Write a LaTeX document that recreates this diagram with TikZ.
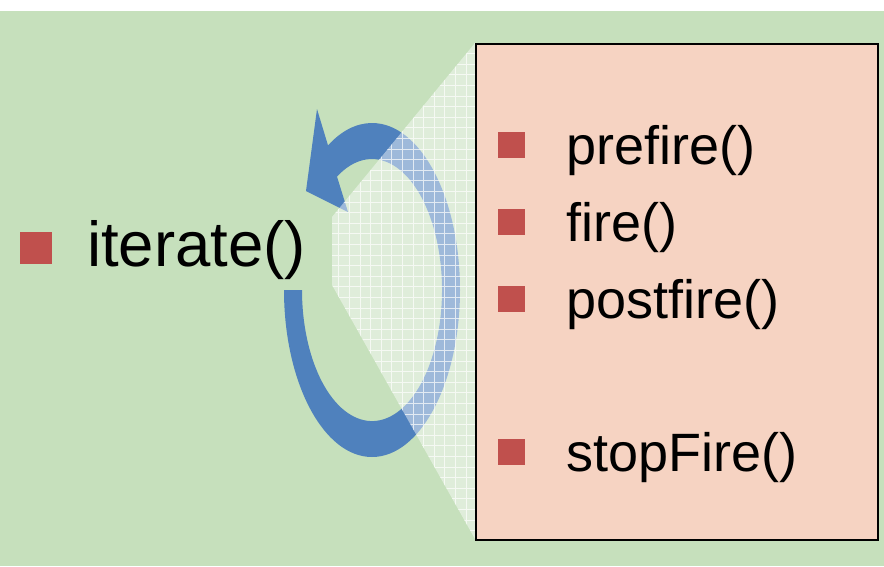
\documentclass[tikz,border=0pt]{standalone}
\usepackage{fontspec}
\setmainfont{Liberation Sans}
\definecolor{bggreen}{HTML}{C6E0BC}
\definecolor{boxpeach}{HTML}{F6D3C2}
\definecolor{ringblue}{HTML}{4F81BD}
\definecolor{bulletred}{HTML}{C0504D}
\tikzset{
  bulletsq/.style={fill=bulletred, minimum size=#1, inner sep=0pt, draw=none},
  bigtext/.style={anchor=base west, inner sep=0pt, font=\fontsize{63.5}{70}\selectfont},
  itemtext/.style={anchor=base west, inner sep=0pt, font=\fontsize{54}{60}\selectfont},
  methodbox/.style={draw=black, line width=2.4pt, fill=boxpeach, anchor=north west,
    minimum width=402pt, minimum height=496pt, inner sep=0pt},
}
\begin{document}
\begin{tikzpicture}[x=1pt,y=1pt]
\useasboundingbox (0,0) rectangle (884,-566);
% page background
\fill[white] (0,0) rectangle (884,-11);
\fill[bggreen] (0,-11) rectangle (884,-566);

% circular arrow: elliptic ring from the left side round to the top, head at the upper left
\coordinate (ringc) at (372,-290);
\coordinate (headA) at (317,-109);
\coordinate (headB) at (306,-191);
\coordinate (headC) at (348,-212);
\fill[ringblue] (284,-290) arc[start angle=180, end angle=480, x radius=88, y radius=167]
  -- (headA) -- (headB) -- (headC) -- (337,-176.6)
  arc[start angle=480, end angle=180, x radius=70, y radius=131] -- cycle;

% translucent zoom wedge with a white grid
\coordinate (w1) at (475,-43);
\coordinate (w2) at (332,-217);
\coordinate (w3) at (332,-285);
\coordinate (w4) at (475,-539);
\fill[white, fill opacity=0.45] (w1) -- (w2) -- (w3) -- (w4) -- cycle;
\begin{scope}
  \clip (w1) -- (w2) -- (w3) -- (w4) -- cycle;
  \begin{scope}[shift={(466,-43)}]
    \draw[white, line width=0.8pt, opacity=0.7, step=10.6] (-160,-520) grid (20,20);
  \end{scope}
\end{scope}

% method box
\node[methodbox] (methods) at (475,-43) {};

% left label
\node[bulletsq=32pt] (b0) at (36,-248) {};
\node[bigtext] (iter) at (87,-266) {iterate()};

% items in the box
\node[bulletsq=26.5pt] (b1) at (511.5,-145) {};
\node[bulletsq=26.5pt] (b2) at (511.5,-222) {};
\node[bulletsq=26.5pt] (b3) at (511.5,-299) {};
\node[bulletsq=26.5pt] (b4) at (511.5,-452) {};
\node[itemtext] (t1) at (566,-164) {prefire()};
\node[itemtext] (t2) at (566,-241) {fire()};
\node[itemtext] (t3) at (566,-318) {postfire()};
\node[itemtext] (t4) at (566,-471) {stopFire()};
\end{tikzpicture}
\end{document}
